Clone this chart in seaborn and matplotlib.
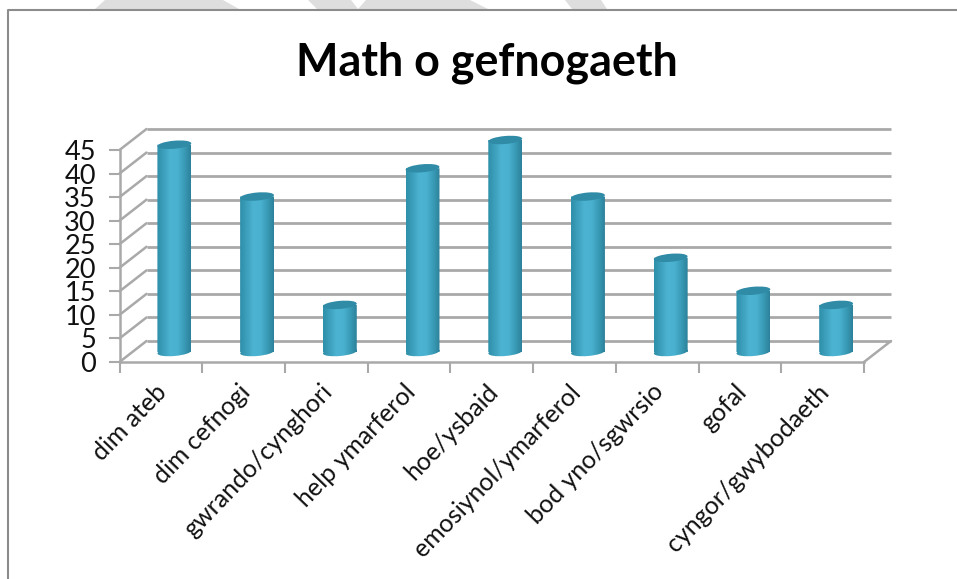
import numpy as np
import pandas as pd
import matplotlib
matplotlib.use("Agg")
import matplotlib.pyplot as plt
import seaborn as sns
from matplotlib.colors import LinearSegmentedColormap
from matplotlib.lines import Line2D
from matplotlib.patches import Ellipse, Polygon, PathPatch
from matplotlib.path import Path
from matplotlib.transforms import Affine2D, IdentityTransform

categories = ["dim ateb", "dim cefnogi", "gwrando/cynghori", "help ymarferol", "hoe/ysbaid",
              "emosiynol/ymarferol", "bod yno/sgwrsio", "gofal", "cyngor/gwybodaeth"]
values = [44, 33, 10, 39, 45, 33, 20, 13, 10]
y_ticks = list(range(0, 50, 5))
title = "Math o gefnogaeth"

W, H = 957, 579
GRID = "#a9a9a9"
sns.set_theme(style="white")
plt.rcParams["font.family"] = ["Lato", "DejaVu Sans"]

fig = plt.figure(figsize=(W / 100, H / 100), dpi=100, facecolor="white")
ax = fig.add_axes([119.5 / W, (H - 362) / H, 744.5 / W, 212 / H])
ax.patch.set_alpha(0)

df = pd.DataFrame({"cat": categories, "val": values})
sns.barplot(data=df, x="cat", y="val", ax=ax, width=0.41, color="#3fa3c0", saturation=1, zorder=3)
ax.set_xlim(-0.5, 8.5)
ax.set_ylim(0, 45)
ax.set_xlabel("")
ax.set_ylabel("")
for s in ["top", "right"]:
    ax.spines[s].set_visible(False)
for s in ["left", "bottom"]:
    ax.spines[s].set_color(GRID)
    ax.spines[s].set_linewidth(1.8)

ax.set_yticks(y_ticks)
ax.set_yticklabels([str(v) for v in y_ticks])
ax.set_xticks(np.arange(-0.5, 9, 1), minor=True)
ax.set_xticks(np.arange(9))
ax.set_xticklabels(categories, rotation=46, ha="right", rotation_mode="anchor", fontsize=18, color="#111111")
ax.tick_params(axis="x", which="major", length=0, pad=13)
ax.tick_params(axis="x", which="minor", length=8, width=1.5, color=GRID, bottom=True)
ax.tick_params(axis="y", length=8, width=1.5, color=GRID, labelsize=19.5, labelcolor="#111111", pad=9, left=True)
for lab in ax.get_xticklabels():
    lab.set_transform(lab.get_transform() + Affine2D().translate(-6, 0))

# back wall and floor of the pseudo-3D frame
DX, DY = 27, 21
back = ax.transData + Affine2D().translate(DX, DY)
ax.hlines(y_ticks, -0.5, 8.5, colors=GRID, lw=2, transform=back, zorder=1, clip_on=False)
for t in y_ticks:
    sx, sy = ax.transData.transform((-0.5, t))
    fig.add_artist(Line2D([sx, sx + DX], [sy, sy + DY], color=GRID, lw=1.8, transform=IdentityTransform()))
sx, sy = ax.transData.transform((8.5, 0))
fig.add_artist(Line2D([sx, sx + DX], [sy, sy + DY], color=GRID, lw=1.8, transform=IdentityTransform()))

# cylinders
BX, BY = 13.5, 10
cmap = LinearSegmentedColormap.from_list(
    "cyl", ["#2f8fa9", "#3da0bd", "#4cb4d2", "#4ab2d0", "#3a9cb8", "#2d819a"])
grad = np.linspace(0, 1, 128).reshape(1, -1)
EH = 8
for bar in list(ax.patches):
    x0, y0 = ax.transData.transform((bar.get_x(), 0))
    x1, y1 = ax.transData.transform((bar.get_x() + bar.get_width(), bar.get_height()))
    x0, x1, y0, y1 = x0 + BX, x1 + BX, y0 + BY, y1 + BY
    w = x1 - x0
    cx = (x0 + x1) / 2
    bar.set_visible(False)
    foot = Ellipse((cx, y0), w, EH, angle=5)
    outline = Path.make_compound_path(
        Path([(x0, y0), (x1, y0), (x1, y1), (x0, y1), (x0, y0)]),
        foot.get_path().transformed(foot.get_patch_transform()))
    im = ax.imshow(grad, cmap=cmap, aspect="auto", extent=(x0, x1, y0 - EH, y1),
                   transform=IdentityTransform(), zorder=3, interpolation="bilinear")
    im.set_clip_box(fig.bbox)
    im.set_clip_path(PathPatch(outline, transform=IdentityTransform()))
    fig.add_artist(Ellipse((cx, y1), w, EH, angle=5, facecolor="#2f8ba6", edgecolor="none",
                           transform=IdentityTransform(), zorder=5))
ax.set_xlim(-0.5, 8.5)
ax.set_ylim(0, 45)

fig.text(486.5 / W, (H - 63) / H, title, ha="center", va="center", fontsize=32.3, fontweight="bold", color="black")

# outer frame
fig.add_artist(Line2D([7.5, 7.5, W], [0, H - 9.5, H - 9.5], color="#8c8c8c", lw=1.5, transform=IdentityTransform()))

# grey scraps of the page behind the chart, above its frame
scraps = [[(105, 0), (223, 0), (239, 9), (95, 9)],
          [(308, 0), (351, 0), (358, 9), (317, 9)],
          [(366, 0), (470, 0), (488, 9), (358, 9)],
          [(565, 0), (601, 0), (607, 9), (572, 9)]]
for pts in scraps:
    fig.add_artist(Polygon([(x, H - y) for x, y in pts], closed=True, facecolor="#dedede", edgecolor="none",
                           transform=IdentityTransform()))

fig.savefig("out.png", dpi=100)
